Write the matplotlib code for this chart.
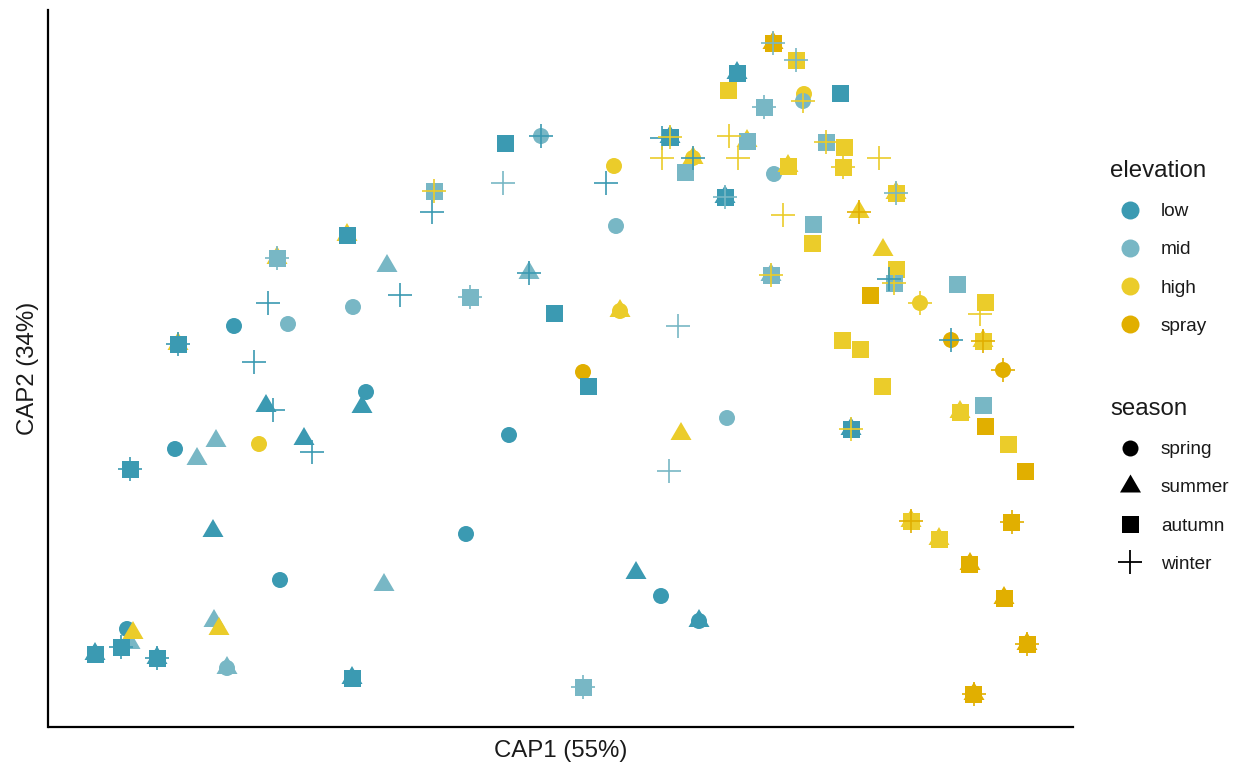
import matplotlib
matplotlib.use("Agg")
import matplotlib.pyplot as plt
from matplotlib.lines import Line2D

plt.rcParams['font.family'] = ['Liberation Sans', 'DejaVu Sans']

# ---- factor levels and palette ----
elevation_levels = ["low", "mid", "high", "spray"]
elevation_colors = ["#3B9AB2", "#78B7C5", "#EBCC2A", "#E1AF00"]
season_levels = ["spring", "summer", "autumn", "winter"]

# ---- CAP scores by season (L = low, M = mid, H = high, S = spray) ----
spring_cap1 = [-4.33, -3.85, -3.33, -3.26, -3.01, -2.72, -2.80, -2.07, -1.94, -0.94,
               -0.51, -0.19, 0.23, 0.54, 0.56, 0.60, 1.01, 1.39, 1.33, 1.67,
               2.14, 2.44, 2.43, 3.60, 3.91, 4.43]
spring_cap2 = [-2.29, -0.49, -2.68, 0.74, -0.44, 0.76, -1.80, 0.93, 0.08, -1.34,
               -0.35, 2.64, 0.28, 2.34, 1.74, 0.89, -1.96, -2.21, 2.42, -0.18,
               2.26, 3.06, 2.99, 0.97, 0.60, 0.30]
spring_elev = ["L", "L", "M", "L", "H", "M", "L", "M", "L", "L",
               "L", "M", "S", "H", "M", "H", "L", "L", "H", "M",
               "M", "H", "M", "H", "S", "S"]

summer_cap1 = [-4.65, -4.30, -4.27, -4.03, -3.63, -3.44, -3.47, -3.46, -3.41, -3.33,
               -3.82, -2.94, -2.83, -2.56, -2.13, -1.98, -2.08, -1.76, -1.73, -0.31,
               0.60, 0.76, 1.39, 1.21, 1.10, 1.33, 1.65, 1.77, 1.87, 2.13,
               2.28, 2.11, 2.91, 2.99, 3.23, 3.36, 3.51, 3.79, 4.10, 4.14,
               4.23, 4.00, 4.44, 4.67]
summer_cap2 = [-2.54, -2.43, -2.33, -2.58, -0.59, -0.41, -1.31, -2.21, -2.29, -2.68,
               0.56, -0.06, 1.42, -0.39, 1.65, -0.07, -2.78, -1.85, 1.34, 1.27,
               0.89, -1.73, -2.21, -0.34, 2.63, 2.42, 2.03, 3.27, 2.59, 3.57,
               2.34, 1.25, -0.29, 1.88, 1.50, 2.07, -1.21, -1.39, -1.64, -2.94,
               0.59, -0.12, -1.98, -2.44]
summer_elev = ["L", "M", "H", "L", "M", "M", "L", "M", "H", "M",
               "H", "L", "H", "L", "H", "L", "L", "M", "M", "M",
               "H", "L", "L", "H", "L", "H", "L", "L", "H", "S",
               "H", "M", "L", "H", "H", "H", "H", "H", "S", "S",
               "H", "H", "S", "S"]

autumn_cap1 = [-4.65, -4.39, -4.03, -4.30, -3.82, -2.83, -2.13, -2.08, -1.26, -0.90,
               -0.55, -0.06, 0.28, 0.23, 1.10, 1.25, 1.65, 1.68, 1.77, 1.87,
               2.04, 2.13, 2.28, 2.36, 2.11, 2.53, 2.52, 2.66, 2.80, 2.84,
               2.83, 2.82, 3.00, 2.91, 3.10, 3.22, 3.36, 3.36, 3.34, 3.51,
               3.79, 3.97, 4.10, 4.14, 4.25, 4.23, 4.23, 4.25, 4.00, 4.44,
               4.48, 4.52, 4.65, 4.67]
autumn_cap2 = [-2.54, -2.47, -2.58, -0.69, 0.56, 1.42, 1.65, -2.78, 2.09, 1.03,
               2.57, 0.87, 0.14, -2.87, 2.63, 2.28, 2.03, 3.10, 3.27, 2.59,
               2.93, 3.57, 2.34, 3.40, 1.25, 1.76, 1.57, 2.58, 3.07, 2.53,
               2.33, 0.60, 0.51, -0.29, 1.05, 0.14, 2.07, 1.31, 1.17, -1.21,
               -1.39, 1.16, -1.64, -2.94, 0.98, 0.59, -0.05, -0.26, -0.12, -1.98,
               -0.44, -1.22, -0.71, -2.44]
autumn_elev = ["L", "L", "L", "L", "L", "M", "L", "L", "M", "M",
               "L", "L", "L", "M", "L", "M", "L", "H", "L", "M",
               "M", "S", "H", "H", "M", "M", "H", "M", "L", "H",
               "H", "H", "H", "L", "S", "H", "H", "H", "M", "H",
               "H", "M", "S", "S", "H", "H", "M", "S", "H", "S",
               "H", "S", "S", "S"]

winter_cap1 = [-4.39, -4.03, -4.30, -3.82, -3.06, -2.87, -2.92, -2.83, -2.48, -1.60,
               -1.26, -1.28, -0.90, -0.57, -0.31, -0.19, 0.23, 0.46, 1.09, 1.18,
               1.02, 1.10, 1.02, 1.33, 1.65, 1.69, 1.78, 2.04, 2.13, 2.23,
               2.36, 2.43, 2.11, 2.66, 2.83, 2.91, 2.99, 3.19, 3.36, 3.34,
               3.29, 3.51, 3.60, 3.91, 4.14, 4.20, 4.23, 4.43, 4.52, 4.67]
winter_cap2 = [-2.47, -2.58, -0.69, 0.56, 0.38, -0.10, 0.97, 1.42, -0.52, 1.05,
               2.09, 1.88, 1.03, 2.17, 1.27, 2.64, -2.87, 2.17, -0.71, 0.74,
               2.62, 2.63, 2.42, 2.42, 2.03, 2.64, 2.42, 2.93, 3.57, 1.85,
               3.40, 2.99, 1.25, 2.58, 2.33, -0.29, 1.88, 2.42, 2.07, 1.17,
               1.21, -1.21, 0.97, 0.60, -2.94, 0.86, 0.59, 0.30, -1.22, -2.44]
winter_elev = ["L", "L", "L", "L", "L", "L", "L", "M", "L", "L",
               "H", "L", "M", "M", "L", "L", "M", "L", "M", "M",
               "L", "H", "H", "L", "M", "H", "H", "M", "M", "H",
               "M", "H", "H", "H", "H", "H", "S", "H", "M", "H",
               "L", "S", "H", "L", "S", "H", "S", "S", "S", "S"]

# ---- marker definitions (ggplot-like shapes) ----
triangle = [(0, 12), (-10.5, -6), (10.5, -6)]   # centroid at the data point
px2pt = 0.72
shape_marker = {"spring": "o", "summer": triangle, "autumn": "s", "winter": "+"}
shape_size = {"spring": (16 * px2pt) ** 2, "summer": (24 * px2pt) ** 2,
              "autumn": (17 * px2pt) ** 2, "winter": (24 * px2pt) ** 2}

code_to_color = dict(zip(["L", "M", "H", "S"], elevation_colors))

fig = plt.figure(figsize=(12.41, 7.64), dpi=100)
W, H = 1241, 764
ax_left, ax_right, ax_top, ax_bottom = 48.5, 1073, 10, 727
ax = fig.add_axes([ax_left / W, 1 - ax_bottom / H,
                   (ax_right - ax_left) / W, (ax_bottom - ax_top) / H])

season_data = {
    "spring": (spring_cap1, spring_cap2, spring_elev),
    "summer": (summer_cap1, summer_cap2, summer_elev),
    "autumn": (autumn_cap1, autumn_cap2, autumn_elev),
    "winter": (winter_cap1, winter_cap2, winter_elev),
}

for z, season in enumerate(season_levels):
    x, y, elev = season_data[season]
    cols = [code_to_color[e] for e in elev]
    if season == "winter":
        ax.scatter(x, y, marker="+", s=shape_size[season], c=cols,
                   linewidths=1.2, zorder=3 + z)
    else:
        ax.scatter(x, y, marker=shape_marker[season], s=shape_size[season],
                   c=cols, linewidths=0, zorder=3 + z)

ax.set_xlim(-5.115, 5.13)
ax.set_ylim(-3.27, 3.90)
ax.set_xticks([])
ax.set_yticks([])
for side in ["top", "right"]:
    ax.spines[side].set_visible(False)
for side in ["left", "bottom"]:
    ax.spines[side].set_linewidth(1.6)
    ax.spines[side].set_color("black")

ax.set_xlabel("CAP1 (55%)", fontsize=17.3, color="#1a1a1a", labelpad=9)
ax.set_ylabel("CAP2 (34%)", fontsize=17.3, color="#1a1a1a", labelpad=7)

# ---- legends ----
elev_handles = [Line2D([], [], ls="", marker="o", markersize=18 * px2pt,
                       markerfacecolor=c, markeredgewidth=0)
                for c in elevation_colors]
season_handles = [
    Line2D([], [], ls="", marker="o", markersize=16 * px2pt, color="black", markeredgewidth=0),
    Line2D([], [], ls="", marker=triangle, markersize=24 * px2pt, color="black", markeredgewidth=0),
    Line2D([], [], ls="", marker="s", markersize=17 * px2pt, color="black", markeredgewidth=0),
    Line2D([], [], ls="", marker="+", markersize=24 * px2pt, color="black", markeredgewidth=1.3),
]

common = dict(frameon=False, loc="upper left", bbox_transform=fig.transFigure,
              fontsize=13.7, title_fontsize=17.3, alignment="left",
              handlelength=2.1, handletextpad=0.58, labelspacing=1.1,
              borderpad=0, borderaxespad=0)
leg1 = fig.legend(elev_handles, elevation_levels, title="elevation",
                  bbox_to_anchor=(1110 / W, 1 - 160 / H), **common)
leg2 = fig.legend(season_handles, season_levels, title="season",
                  bbox_to_anchor=(1110 / W, 1 - 398 / H), **common)
for leg in (leg1, leg2):
    for t in leg.get_texts():
        t.set_color("#1a1a1a")
    leg.get_title().set_color("#1a1a1a")

fig.savefig("out.png", dpi=100)
